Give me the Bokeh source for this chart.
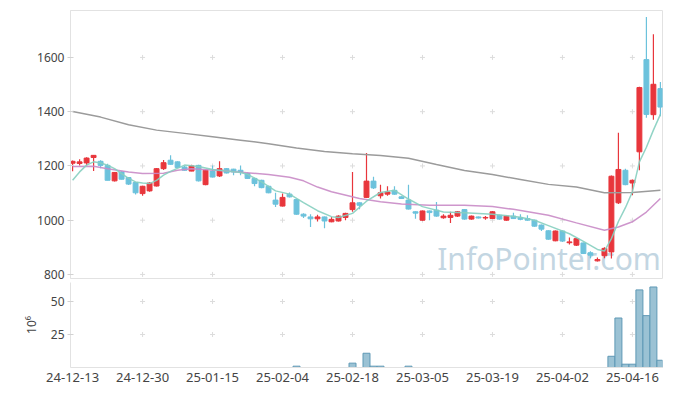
from bokeh.plotting import figure
from bokeh.layouts import column
from bokeh.models import Range1d, FixedTicker, ColumnDataSource
from bokeh.core.properties import value
from bokeh.embed import file_html
from bokeh.resources import INLINE

# ---------------- data ----------------
dates = [
    "24-12-13", "24-12-16", "24-12-17", "24-12-18", "24-12-19", "24-12-20", "24-12-23", "24-12-24", "24-12-26", "24-12-27",
    "24-12-30", "25-01-02", "25-01-03", "25-01-06", "25-01-07", "25-01-08", "25-01-09", "25-01-10", "25-01-13", "25-01-14",
    "25-01-15", "25-01-16", "25-01-17", "25-01-20", "25-01-21", "25-01-22", "25-01-23", "25-01-24", "25-01-31", "25-02-03",
    "25-02-04", "25-02-05", "25-02-06", "25-02-07", "25-02-10", "25-02-11", "25-02-12", "25-02-13", "25-02-14", "25-02-17",
    "25-02-18", "25-02-19", "25-02-20", "25-02-21", "25-02-24", "25-02-25", "25-02-26", "25-02-27", "25-02-28", "25-03-04",
    "25-03-05", "25-03-06", "25-03-07", "25-03-10", "25-03-11", "25-03-12", "25-03-13", "25-03-14", "25-03-17", "25-03-18",
    "25-03-19", "25-03-20", "25-03-21", "25-03-24", "25-03-25", "25-03-26", "25-03-27", "25-03-28", "25-03-31", "25-04-01",
    "25-04-02", "25-04-03", "25-04-04", "25-04-07", "25-04-08", "25-04-09", "25-04-10", "25-04-11", "25-04-14", "25-04-15",
    "25-04-16", "25-04-17", "25-04-18", "25-04-21", "25-04-22",
]

opens = [1210, 1209, 1211, 1231, 1217, 1202, 1145, 1178, 1157, 1139,
         1098, 1108, 1126, 1190, 1221, 1215, 1196, 1181, 1202, 1131,
         1181, 1163, 1190, 1188, 1184, 1172, 1154, 1147, 1125, 1074,
         1052, 1096, 1076, 1022, 1012, 1005, 1012, 994, 997, 1010,
         1039, 1064, 1084, 1144, 1090, 1096, 1110, 1086, 1074, 1031,
         1000, 1034, 1037, 1009, 1010, 1015, 1039, 1004, 1012, 1008,
         1006, 1018, 1000, 1015, 1010, 1006, 1000, 982, 961, 924,
         960, 917, 908, 916, 880, 850, 869, 883, 1064, 1184,
         1137, 1252, 1592, 1389, 1485]
highs = [1220, 1225, 1232, 1240, 1221, 1208, 1178, 1180, 1158, 1140,
         1127, 1140, 1192, 1222, 1239, 1217, 1200, 1204, 1204, 1186,
         1202, 1217, 1192, 1190, 1202, 1176, 1156, 1149, 1127, 1101,
         1098, 1102, 1078, 1026, 1022, 1020, 1014, 1012, 1018, 1027,
         1178, 1066, 1248, 1160, 1131, 1125, 1125, 1088, 1131, 1033,
         1036, 1036, 1067, 1022, 1031, 1034, 1041, 1017, 1014, 1015,
         1034, 1020, 1017, 1027, 1022, 1018, 1002, 984, 963, 962,
         962, 936, 935, 918, 885, 862, 900, 1165, 1322, 1190,
         1150, 1492, 1749, 1685, 1509]
lows = [1180, 1202, 1202, 1181, 1191, 1147, 1143, 1150, 1130, 1095,
        1090, 1105, 1124, 1185, 1204, 1192, 1182, 1180, 1143, 1129,
        1157, 1159, 1172, 1166, 1166, 1152, 1125, 1118, 1099, 1049,
        1050, 1084, 1020, 1008, 975, 995, 970, 992, 995, 1000,
        1031, 1040, 1082, 1115, 1080, 1090, 1094, 1078, 1039, 1005,
        998, 1000, 1013, 1005, 990, 1012, 1002, 1002, 1006, 1002,
        1004, 1002, 998, 1004, 1000, 998, 976, 960, 928, 922,
        920, 910, 905, 875, 860, 848, 860, 859, 1060, 1129,
        1092, 1184, 1378, 1370, 1383]
closes = [1217, 1215, 1229, 1239, 1202, 1147, 1176, 1151, 1133, 1101,
          1125, 1137, 1190, 1212, 1206, 1194, 1184, 1200, 1145, 1184,
          1159, 1190, 1174, 1178, 1178, 1154, 1135, 1120, 1101, 1059,
          1084, 1086, 1022, 1015, 1005, 1012, 997, 1003, 1015, 1025,
          1064, 1055, 1144, 1119, 1101, 1104, 1096, 1080, 1041, 1026,
          1034, 1028, 1015, 1015, 1018, 1031, 1004, 1015, 1008, 1010,
          1031, 1004, 1015, 1006, 1003, 1000, 978, 967, 930, 960,
          923, 920, 932, 877, 871, 855, 896, 1162, 1187, 1131,
          1147, 1489, 1390, 1501, 1417]
# volume in millions of shares
volumes = [0.2, 0.1, 0.2, 0.2, 0.1, 0.2, 0.2, 0.1, 0.1, 0.2,
           0.1, 0.1, 0.3, 0.2, 0.1, 0.1, 0.1, 0.1, 0.1, 0.3,
           0.1, 0.2, 0.1, 0.1, 0.1, 0.1, 0.1, 0.1, 0.1, 0.2,
           0.2, 0.1, 1.0, 0.2, 0.2, 0.1, 0.2, 0.1, 0.1, 0.2,
           3.3, 0.4, 10.8, 1.0, 1.0, 0.3, 0.3, 0.2, 1.0, 0.2,
           0.2, 0.1, 0.3, 0.1, 0.1, 0.1, 0.2, 0.1, 0.1, 0.1,
           0.2, 0.1, 0.1, 0.1, 0.1, 0.1, 0.1, 0.1, 0.2, 0.2,
           0.2, 0.1, 0.2, 0.3, 0.2, 0.2, 0.3, 8.5, 37.5, 2.5,
           2.5, 58.8, 39.3, 61.0, 5.5]

ma5_idx = [0, 1, 2, 3, 4, 5, 6, 7, 8, 9, 10, 11, 12, 13, 14, 16, 18, 20, 22, 24, 25, 27, 29, 31, 33, 35,
           37, 38, 40, 42, 44, 46, 48, 50, 53, 56, 60, 64, 66, 68, 71, 73, 75, 76, 77, 78, 79, 80, 81, 82, 83, 84]
ma5 = [1147, 1178, 1203, 1215, 1211, 1203, 1190, 1172, 1154, 1141, 1137, 1135, 1147, 1166, 1180, 1203, 1198,
       1187, 1181, 1176, 1169, 1141, 1108, 1096, 1065, 1035, 1013, 1010, 1025, 1070, 1102, 1110, 1078, 1050,
       1030, 1027, 1022, 1011, 1000, 980, 950, 922, 892, 886, 932, 995, 1046, 1105, 1215, 1269, 1332, 1390]
ma20_idx = [0, 3, 5, 8, 10, 13, 15, 17, 21, 24, 28, 31, 33, 35, 37, 41, 44, 47, 51, 56, 60, 63, 68, 72, 76, 78, 80, 82, 84]
ma20 = [1198, 1199, 1190, 1178, 1172, 1173, 1184, 1190, 1183, 1177, 1168, 1158, 1145, 1122, 1105, 1080, 1068, 1060,
        1055, 1055, 1050, 1040, 1018, 990, 963, 975, 994, 1030, 1080]
ma60_idx = [0, 4, 8, 12, 16, 20, 24, 28, 32, 36, 40, 44, 48, 52, 56, 60, 64, 68, 72, 76, 80, 84]
ma60 = [1401, 1380, 1352, 1332, 1320, 1308, 1295, 1282, 1266, 1253, 1245, 1238, 1228, 1205, 1183, 1168, 1150,
        1132, 1122, 1101, 1102, 1110]

price_ticks = [800, 1000, 1200, 1400, 1600]
vol_ticks = [25, 50]
tick_step = 10

# ---------------- styling ----------------
UP = "#e8363c"
DOWN = "#6cc2dc"
FONT = "Noto Sans"
LABEL_COLOR = "#444444"
FRAME = "#e2e2e2"
CROSS = "#dcdcdc"

n = len(dates)
idx = list(range(n))
date_tick_idx = list(range(0, n, tick_step))
colors = [UP if c >= o else DOWN for o, c in zip(opens, closes)]
src = ColumnDataSource(dict(
    x=idx, open=opens, high=highs, low=lows, close=closes,
    top=[max(o, c) for o, c in zip(opens, closes)],
    bottom=[min(o, c) for o, c in zip(opens, closes)],
    color=colors, vol=volumes,
    vline=[0.0 if v < 0.5 else 1.0 for v in volumes],
))

x_range = Range1d(-0.3, n - 0.7)

p1 = figure(frame_width=592, frame_height=268, x_range=x_range, y_range=Range1d(785, 1773),
            output_backend="svg", toolbar_location=None, x_axis_location=None,
            min_border_left=70, min_border_right=3, min_border_top=10, min_border_bottom=4)
p1.grid.visible = False
p1.outline_line_color = FRAME
p1.background_fill_color = "white"
p1.border_fill_color = "white"
ya = p1.yaxis[0]
ya.ticker = FixedTicker(ticks=price_ticks)
ya.axis_line_color = FRAME
ya.major_tick_line_color = "#d2d2d2"
ya.major_tick_in = 3
ya.major_tick_out = 3
ya.minor_tick_line_color = None
ya.major_label_standoff = 3
ya.major_label_text_font = FONT
ya.major_label_text_font_size = "12px"
ya.major_label_text_color = LABEL_COLOR

# watermark
p1.text(x=[52.1], y=[860], text=["InfoPointer.com"], text_font=value(FONT),
        text_font_size="30px", text_color="#c3d6e2", text_baseline="alphabetic", text_align="left")

# grid crosses
cx = [i for i in date_tick_idx[1:] for _ in price_ticks]
cy = [t for _ in date_tick_idx[1:] for t in price_ticks]
p1.scatter(x=cx, y=cy, marker="cross", size=5, line_color=CROSS, line_width=1)

# candles
p1.segment(x0="x", y0="low", x1="x", y1="high", line_color="color", line_width=1.2, source=src)
p1.vbar(x="x", width=0.7, top="top", bottom="bottom", fill_color="color", line_color="color", source=src)

# moving averages
p1.line(ma60_idx, ma60, line_color="#9b9b9b", line_width=1.5)
p1.line(ma20_idx, ma20, line_color="#c98bc6", line_width=1.5, line_alpha=0.9)
p1.line(ma5_idx, ma5, line_color="#86cfc0", line_width=1.5, line_alpha=0.9)

# ---------------- volume ----------------
p2 = figure(frame_width=592, frame_height=85, x_range=x_range, y_range=Range1d(0, 64.4),
            output_backend="svg", toolbar_location=None,
            min_border_left=70, min_border_right=3, min_border_top=0, min_border_bottom=0)
p2.grid.visible = False
p2.outline_line_color = None
vx = [i for i in date_tick_idx[1:] for _ in vol_ticks]
vy = [t for _ in date_tick_idx[1:] for t in vol_ticks]
p2.scatter(x=vx, y=vy, marker="cross", size=5, line_color=CROSS, line_width=1)
p2.vbar(x="x", width=1.0, top="vol", bottom=0, fill_color="#96bfd2", fill_alpha=0.95,
        line_color="#5f99b5", line_alpha="vline", line_width=1, source=src)

ya2 = p2.yaxis[0]
ya2.ticker = FixedTicker(ticks=vol_ticks)
ya2.axis_line_color = FRAME
ya2.major_tick_line_color = "#d2d2d2"
ya2.major_tick_in = 3
ya2.major_tick_out = 3
ya2.minor_tick_line_color = None
ya2.major_label_standoff = 3
ya2.major_label_text_font = FONT
ya2.major_label_text_font_size = "12px"
ya2.major_label_text_color = LABEL_COLOR
ya2.axis_label = "10\u2076"
ya2.axis_label_text_font = FONT
ya2.axis_label_text_font_size = "12px"
ya2.axis_label_text_font_style = "normal"
ya2.axis_label_text_color = LABEL_COLOR
ya2.axis_label_standoff = 8

xa = p2.xaxis[0]
xa.ticker = FixedTicker(ticks=date_tick_idx)
xa.major_label_overrides = {i: dates[i] for i in date_tick_idx}
xa.axis_line_color = FRAME
xa.major_tick_in = 0
xa.major_tick_out = 0
xa.minor_tick_line_color = None
xa.major_label_standoff = 5
xa.major_label_text_font = FONT
xa.major_label_text_font_size = "13px"
xa.major_label_text_color = LABEL_COLOR

layout = column(p1, p2, spacing=0)
open("out.html", "w").write(file_html(layout, INLINE))
